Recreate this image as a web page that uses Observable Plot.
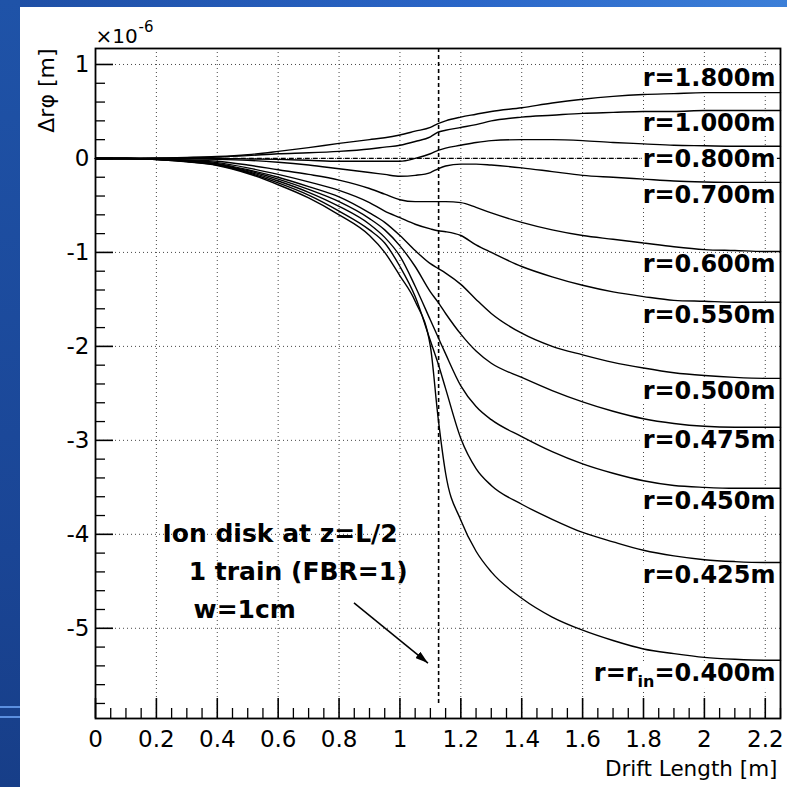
<!DOCTYPE html>
<html><head><meta charset="utf-8">
<script src="https://cdn.jsdelivr.net/npm/d3@7"></script>
<script src="https://cdn.jsdelivr.net/npm/@observablehq/plot@0.6"></script>
<style>
html,body{margin:0;padding:0;}
body{width:787px;height:787px;overflow:hidden;position:relative;background:#1b4a9c;font-family:"DejaVu Sans",sans-serif;}
#topband{position:absolute;left:0;top:0;width:787px;height:7px;background:linear-gradient(to right,#1e4ea4,#2a66c8 60%,#3c7fd8);}
#leftband{position:absolute;left:0;top:0;width:20px;height:787px;background:linear-gradient(to bottom,#1f53a8,#1a4595 70%,#173e88);}
.stripe{position:absolute;left:0;width:20px;height:2px;background:#5b8fe0;}
#panel{position:absolute;left:20px;top:7px;width:767px;height:780px;background:#fff;}
</style></head><body>
<div id="topband"></div><div id="leftband"></div>
<div class="stripe" style="top:706px"></div><div class="stripe" style="top:716px"></div>
<div id="panel"></div>
<script>
// ---- data (values in units of 1e-6 m) ----
const xs = [0, 0.1, 0.2, 0.3, 0.4, 0.5, 0.6, 0.7, 0.8, 0.9, 0.95, 1.0, 1.05, 1.1, 1.125, 1.15, 1.2, 1.25, 1.3, 1.4, 1.5, 1.6, 1.7, 1.8, 1.9, 2.0, 2.1, 2.2, 2.25];
const r1800 = [0, 0, 0.005, 0.01, 0.02, 0.04, 0.075, 0.115, 0.16, 0.2, 0.22, 0.25, 0.29, 0.33, 0.37, 0.40, 0.44, 0.47, 0.50, 0.54, 0.59, 0.63, 0.66, 0.68, 0.69, 0.70, 0.70, 0.70, 0.70];
const r1000 = [0, 0, 0.003, 0.008, 0.015, 0.03, 0.05, 0.06, 0.075, 0.1, 0.12, 0.14, 0.18, 0.23, 0.28, 0.30, 0.33, 0.36, 0.40, 0.44, 0.46, 0.48, 0.49, 0.50, 0.50, 0.51, 0.51, 0.51, 0.51];
const r0800 = [0, 0, 0, 0, 0, -0.005, -0.01, -0.02, -0.03, -0.03, -0.03, -0.03, 0.0, 0.05, 0.085, 0.11, 0.14, 0.17, 0.19, 0.20, 0.20, 0.19, 0.17, 0.155, 0.14, 0.135, 0.13, 0.13, 0.13];
const r0700 = [0, 0, -0.002, -0.005, -0.01, -0.02, -0.04, -0.07, -0.11, -0.15, -0.17, -0.19, -0.18, -0.15, -0.11, -0.08, -0.06, -0.06, -0.07, -0.10, -0.14, -0.18, -0.20, -0.22, -0.24, -0.25, -0.255, -0.255, -0.255];
const r0600 = [0, 0, -0.005, -0.015, -0.03, -0.07, -0.12, -0.17, -0.23, -0.32, -0.38, -0.44, -0.46, -0.46, -0.46, -0.46, -0.47, -0.52, -0.58, -0.68, -0.76, -0.82, -0.86, -0.90, -0.94, -0.97, -0.98, -0.99, -0.99];
const r0550 = [0, 0, -0.007, -0.02, -0.045, -0.1, -0.17, -0.25, -0.34, -0.47, -0.56, -0.63, -0.70, -0.75, -0.77, -0.78, -0.82, -0.92, -1.0, -1.15, -1.26, -1.35, -1.42, -1.47, -1.51, -1.52, -1.53, -1.53, -1.53];
const r0500 = [0, 0, -0.008, -0.025, -0.055, -0.12, -0.2, -0.3, -0.41, -0.58, -0.68, -0.82, -0.98, -1.12, -1.17, -1.22, -1.34, -1.50, -1.65, -1.86, -2.0, -2.09, -2.17, -2.23, -2.28, -2.31, -2.33, -2.34, -2.34];
const r0475 = [0, -0.001, -0.009, -0.028, -0.06, -0.13, -0.22, -0.33, -0.46, -0.64, -0.76, -0.93, -1.15, -1.42, -1.53, -1.65, -1.87, -2.05, -2.18, -2.33, -2.47, -2.59, -2.69, -2.77, -2.82, -2.85, -2.86, -2.86, -2.86];
const r0450 = [0, -0.001, -0.01, -0.03, -0.065, -0.14, -0.24, -0.36, -0.51, -0.70, -0.84, -1.04, -1.36, -1.72, -1.90, -2.08, -2.42, -2.64, -2.78, -2.96, -3.12, -3.25, -3.35, -3.43, -3.48, -3.50, -3.51, -3.51, -3.51];
const r0425 = [0, -0.001, -0.011, -0.033, -0.07, -0.15, -0.26, -0.39, -0.56, -0.76, -0.90, -1.15, -1.47, -1.94, -2.18, -2.45, -2.98, -3.30, -3.48, -3.68, -3.84, -3.98, -4.08, -4.17, -4.23, -4.27, -4.29, -4.30, -4.30];
const r0400 = [0, -0.001, -0.012, -0.036, -0.075, -0.16, -0.28, -0.42, -0.60, -0.82, -1.0, -1.25, -1.52, -2.0, -2.75, -3.35, -3.85, -4.18, -4.40, -4.68, -4.88, -5.02, -5.13, -5.22, -5.27, -5.31, -5.33, -5.34, -5.34];

const seriesNames = ["r=1.800m", "r=1.000m", "r=0.800m", "r=0.700m", "r=0.600m", "r=0.550m", "r=0.500m", "r=0.475m", "r=0.450m", "r=0.425m", "r=r_in=0.400m"];
const seriesValues = [r1800, r1000, r0800, r0700, r0600, r0550, r0500, r0475, r0450, r0425, r0400];

const xTickLabels = [0, 0.2, 0.4, 0.6, 0.8, 1, 1.2, 1.4, 1.6, 1.8, 2, 2.2];
const yTickLabels = [1, 0, -1, -2, -3, -4, -5];

const noteLines = ["Ion disk at z=L/2", "1 train (FBR=1)", "w=1cm"];
const noteX = [0.22, 0.306, 0.322];
const noteY = [-4.0, -4.40, -4.81];
const arrowFrom = [0.849, -4.73];
const arrowTo = [1.092, -5.37];
const diskX = 1.127;       // vertical dashed line (ion disk position)
const diskLineBottom = -5.80;
const zeroLineStart = 0.4; // dashed reference line at 0

const xDomain = [0, 2.25];
const yDomain = [-5.96, 1.17];

// ---- layout ----
const W = 767, H = 780;
const mL = 75, mT = 41, mR = 7, mB = 69;
const innerW = W - mL - mR, innerH = H - mT - mB;

const rows = seriesNames.flatMap((name, i) => xs.map((x, j) => ({series: name, x, y: seriesValues[i][j]})));
const ends = seriesNames.map((name, i) => ({name, x: xDomain[1], y: seriesValues[i][seriesValues[i].length - 1]}));
const notes = noteLines.map((t, i) => ({t, x: noteX[i], y: noteY[i]}));
const arrow = [{x1: arrowFrom[0], y1: arrowFrom[1], x2: arrowTo[0], y2: arrowTo[1]}];

const near = (v, s) => Math.abs(v / s - Math.round(v / s)) < 1e-6;
const xMinor = d3.range(0, 2.2501, 0.05).filter(v => !near(v, 0.2));
const yMinor = d3.range(-5.8, 1.0001, 0.2).filter(v => !near(v, 1));

const gridStyle = {stroke: "#333", strokeWidth: 1, strokeDasharray: "1,3", strokeOpacity: 0.9};
const labelStyle = {x: "x", y: "y", text: "name", textAnchor: "end", lineAnchor: "middle", dx: -5, fontSize: 24, fontWeight: "bold", fill: "#000001"};

const plot = Plot.plot({
  width: W, height: H,
  marginLeft: mL, marginTop: mT, marginRight: mR, marginBottom: mB,
  x: {domain: xDomain},
  y: {domain: yDomain},
  style: {fontFamily: "'DejaVu Sans', sans-serif", background: "white", color: "black", overflow: "visible"},
  marks: [
    Plot.gridX(xTickLabels.filter(v => v > 0), gridStyle),
    Plot.gridY(yTickLabels, gridStyle),
    Plot.ruleY([0], {x1: zeroLineStart, x2: xDomain[1], stroke: "black", strokeWidth: 1.3, strokeDasharray: "5,3"}),
    Plot.ruleX([diskX], {y1: diskLineBottom, y2: yDomain[1], stroke: "black", strokeWidth: 1.6, strokeDasharray: "4,3"}),
    Plot.text(ends.slice(0, 1), {...labelStyle, dy: -14}),
    Plot.text(ends.slice(1), {...labelStyle, dy: 13}),
    Plot.line(rows, {x: "x", y: "y", z: "series", stroke: "black", strokeWidth: 1.4, curve: "monotone-x"}),
    Plot.text(notes, {x: "x", y: "y", text: "t", textAnchor: "start", lineAnchor: "middle", fontSize: 25, fontWeight: "bold", fill: "black"}),
    Plot.link(arrow, {x1: "x1", y1: "y1", x2: "x2", y2: "y2", stroke: "#010101", strokeWidth: 1.5}),
    Plot.tickX(xTickLabels, {x: d => d, insetTop: innerH - 20, stroke: "black", strokeWidth: 1.6}),
    Plot.tickX(xMinor, {x: d => d, insetTop: innerH - 10, stroke: "black", strokeWidth: 1.3}),
    Plot.tickY(yTickLabels, {y: d => d, insetRight: innerW - 18, stroke: "black", strokeWidth: 1.6}),
    Plot.tickY(yMinor, {y: d => d, insetRight: innerW - 10, stroke: "black", strokeWidth: 1.3}),
    Plot.axisX(xTickLabels, {tickSize: 0, tickPadding: 12, fontSize: 23, tickFormat: d => String(d), label: null}),
    Plot.axisY(yTickLabels, {tickSize: 0, tickPadding: 6, fontSize: 23, tickFormat: d => String(d), label: null}),
    Plot.frame({stroke: "black", strokeWidth: 1.8}),
    Plot.text(["Drift Length [m]"], {text: d => d, frameAnchor: "bottom-right", textAnchor: "end", lineAnchor: "middle", dx: -3, dy: 51, fontSize: 21.5}),
    Plot.text(["Δrφ [m]"], {text: d => d, frameAnchor: "top-left", rotate: -90, textAnchor: "end", lineAnchor: "middle", dx: -49, dy: 0, fontSize: 22}),
    Plot.text(["×10"], {text: d => d, frameAnchor: "top-left", textAnchor: "start", lineAnchor: "middle", dx: 0, dy: -12, fontSize: 20}),
    Plot.text(["-6"], {text: d => d, frameAnchor: "top-left", textAnchor: "start", lineAnchor: "middle", dx: 43, dy: -21, fontSize: 15})
  ]
});

document.getElementById("panel").appendChild(plot);
const svg = d3.select(plot);

// subscript for r_in
svg.selectAll("text").each(function () {
  if (this.textContent === "r=r_in=0.400m") {
    const t = d3.select(this);
    t.text(null);
    t.append("tspan").text("r=r");
    t.append("tspan").attr("font-size", 16).attr("dy", 6).text("in");
    t.append("tspan").attr("dy", -6).text("=0.400m");
  }
});

// white boxes behind the r labels
svg.selectAll('g[fill="#000001"] text').each(function () {
  const b = this.getBBox();
  const r = document.createElementNS("http://www.w3.org/2000/svg", "rect");
  r.setAttribute("x", b.x - 1);
  r.setAttribute("y", b.y + 3);
  r.setAttribute("width", b.width + 2);
  r.setAttribute("height", b.height - 5);
  r.setAttribute("fill", "white");
  r.setAttribute("stroke", "none");
  const tr = this.getAttribute("transform");
  if (tr) r.setAttribute("transform", tr);
  this.parentNode.insertBefore(r, this.parentNode.firstChild);
});

// filled arrow head
const defs = svg.append("defs");
defs.append("marker").attr("id", "ahead").attr("viewBox", "0 0 13 8").attr("refX", 13).attr("refY", 4)
  .attr("markerWidth", 13).attr("markerHeight", 8).attr("markerUnits", "userSpaceOnUse").attr("orient", "auto")
  .append("path").attr("d", "M0,0L13,4L0,8Z").attr("fill", "black");
svg.selectAll('g[stroke="#010101"] path').attr("marker-end", "url(#ahead)");
</script>
</body></html>
